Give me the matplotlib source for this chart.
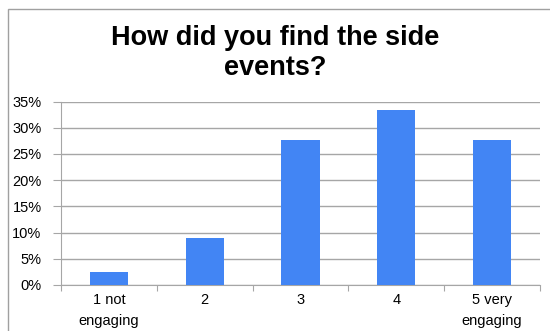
import matplotlib.pyplot as plt
from matplotlib.patches import Rectangle
from matplotlib.ticker import MultipleLocator, PercentFormatter

# survey answers, share of respondents (%)
categories = ["1 not\nengaging", "2", "3", "4", "5 very\nengaging"]
shares = [2.5, 9.0, 27.6, 33.3, 27.6]
title_lines = ["How did you find the side", "events?"]

plt.rcParams['font.family'] = ['Liberation Sans', 'DejaVu Sans']

fig = plt.figure(figsize=(5.5, 3.31), dpi=100)
W, H = 550, 331

# chart frame (only top and left edges fall inside the image)
fig.patches.append(Rectangle((7.5 / W, -0.1), 1.2, 1.1 - 9.5 / H,
                             transform=fig.transFigure, fill=False,
                             edgecolor='#a0a0a0', linewidth=1.0))

ax = fig.add_axes([61 / W, 1 - 285 / H, (540 - 61) / W, (285 - 101.5) / H])

x = range(len(categories))
ax.bar(x, shares, width=0.4, color='#4285f4', zorder=3)

ax.set_xlim(-0.5, len(categories) - 0.5)
ax.set_ylim(0, 35)
ax.yaxis.set_major_locator(MultipleLocator(5))
ax.yaxis.set_major_formatter(PercentFormatter(decimals=0))
ax.grid(axis='y', color='#a6a6a6', linewidth=1.0, zorder=0)

ax.set_xticks([i + 0.5 for i in range(-1, len(categories))])
ax.set_xticklabels([])
ax.set_xticks(list(x), minor=True)
ax.set_xticklabels(categories, minor=True, fontsize=10.5, linespacing=1.6)
ax.tick_params(axis='x', which='major', length=4, color='#a6a6a6')
ax.tick_params(axis='x', which='minor', length=0, pad=6)
ax.tick_params(axis='y', length=6, color='#a6a6a6', labelsize=10.5, pad=8)

for side in ('top', 'right'):
    ax.spines[side].set_visible(False)
for side in ('left', 'bottom'):
    ax.spines[side].set_color('#a6a6a6')

# two-line title, baselines placed 30 px apart
for line, base in zip(title_lines, (45, 75)):
    fig.text(0.5, 1 - base / H, line, ha='center', va='baseline',
             fontsize=19.5, fontweight='bold')

fig.savefig('out.png', dpi=100)
